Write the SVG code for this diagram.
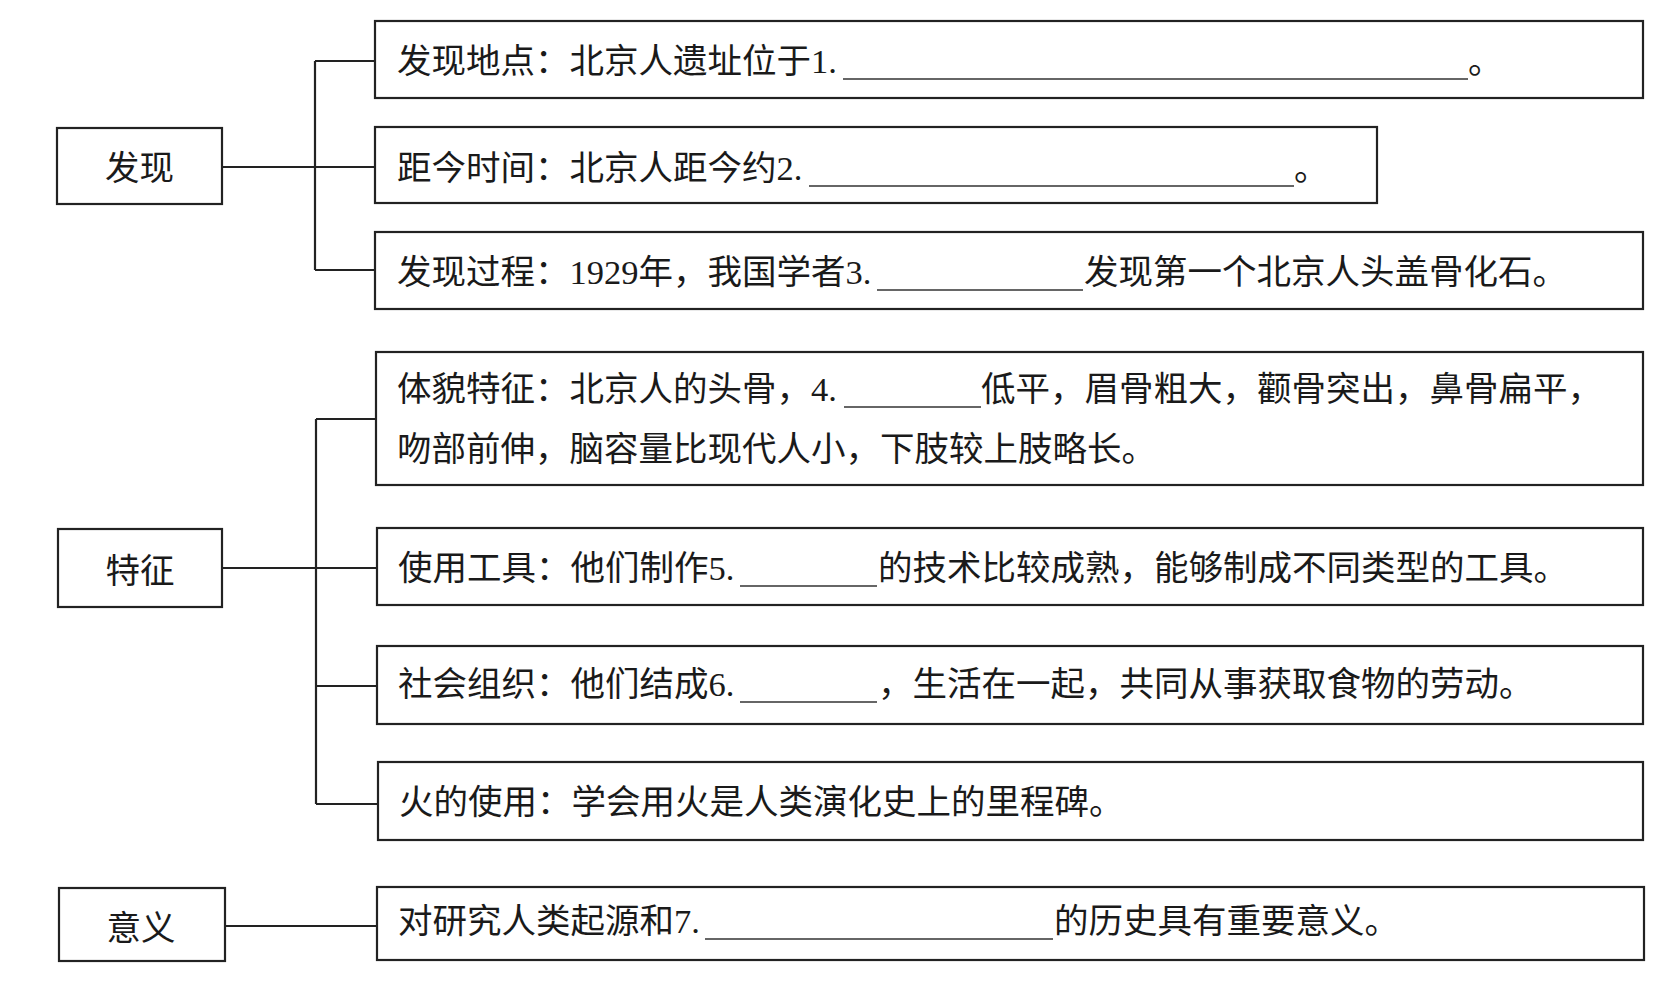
<svg xmlns="http://www.w3.org/2000/svg" width="1676" height="989" viewBox="0 0 1676 989">
<style>
.box{fill:#fff;stroke:#222;stroke-width:2.2}
.ln{fill:none;stroke:#222;stroke-width:2.2}
.ul{stroke:#333;stroke-width:1.6}
text{font-family:"Liberation Serif","Noto Sans CJK SC",serif;font-size:34.5px;fill:#1a1a1a}
.lbl{text-anchor:middle}
</style>
<rect width="1676" height="989" fill="#fff"/>
<g id="connectors">
<path class="ln" d="M222 167H315M315 61V270M315 61H375M315 167H375M315 270H375"/>
<path class="ln" d="M222 568H316M316 419V804M316 419H376M316 568H377M316 686H377M316 804H378"/>
<path class="ln" d="M225 926H377"/>
</g>
<g id="n-faxian"><rect class="box" x="57" y="128" width="165" height="76"/><text class="lbl" x="139.5" y="180">发现</text></g>
<g id="n-tezheng"><rect class="box" x="58" y="529" width="164" height="78"/><text class="lbl" x="140" y="583">特征</text></g>
<g id="n-yiyi"><rect class="box" x="59" y="888" width="166" height="73"/><text class="lbl" x="141" y="940">意义</text></g>
<g id="n-b1"><rect class="box" x="375" y="21" width="1268" height="77"/>
<text x="397" y="73">发现地点：北京人遗址位于1.</text>
<line class="ul" x1="843" y1="79" x2="1468" y2="79"/>
<text x="1468" y="73">。</text></g>
<g id="n-b2"><rect class="box" x="375" y="127" width="1002" height="76"/>
<text x="397" y="180">距今时间：北京人距今约2.</text>
<line class="ul" x1="809" y1="186" x2="1294" y2="186"/>
<text x="1294" y="180">。</text></g>
<g id="n-b3"><rect class="box" x="375" y="232" width="1268" height="77"/>
<text x="397" y="284">发现过程：1929年，我国学者3.</text>
<line class="ul" x1="877" y1="290" x2="1083" y2="290"/>
<text x="1084" y="284">发现第一个北京人头盖骨化石。</text></g>
<g id="n-b4"><rect class="box" x="376" y="352" width="1267" height="133"/>
<text x="397" y="401">体貌特征：北京人的头骨，4.</text>
<line class="ul" x1="844" y1="407" x2="981" y2="407"/>
<text x="981" y="401">低平，眉骨粗大，颧骨突出，鼻骨扁平，</text>
<text x="397" y="461">吻部前伸，脑容量比现代人小，下肢较上肢略长。</text></g>
<g id="n-b5"><rect class="box" x="377" y="528" width="1266" height="77"/>
<text x="398" y="580">使用工具：他们制作5.</text>
<line class="ul" x1="740" y1="586" x2="877" y2="586"/>
<text x="878" y="580">的技术比较成熟，能够制成不同类型的工具。</text></g>
<g id="n-b6"><rect class="box" x="377" y="646" width="1266" height="78"/>
<text x="398" y="696">社会组织：他们结成6.</text>
<line class="ul" x1="740" y1="702" x2="877" y2="702"/>
<text x="878" y="696">，生活在一起，共同从事获取食物的劳动。</text></g>
<g id="n-b7"><rect class="box" x="378" y="762" width="1265" height="78"/>
<text x="399" y="814">火的使用：学会用火是人类演化史上的里程碑。</text></g>
<g id="n-b8"><rect class="box" x="377" y="887" width="1267" height="73"/>
<text x="398" y="933">对研究人类起源和7.</text>
<line class="ul" x1="705" y1="939" x2="1053" y2="939"/>
<text x="1054" y="933">的历史具有重要意义。</text></g>
</svg>
